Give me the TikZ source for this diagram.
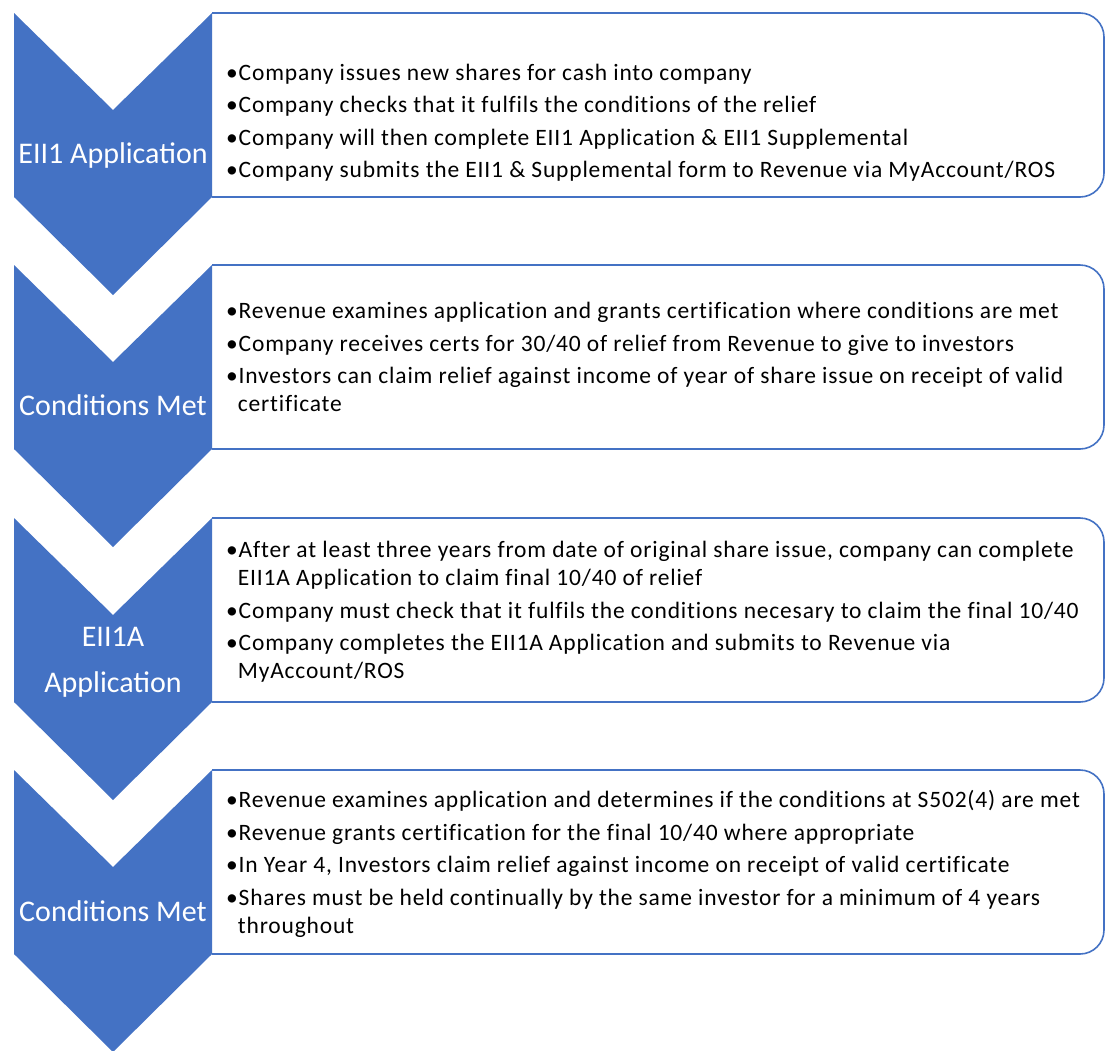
\documentclass[tikz,border=0pt]{standalone}
\usepackage{fontspec}
\setmainfont{Carlito}
\newfontfamily\bodyfont[LetterSpace=3.5, Ligatures=NoCommon]{Carlito}
\definecolor{chevblue}{HTML}{4472C4}
\tikzset{
  chevron/.style={fill=chevblue, draw=none},
  infobox/.style={draw=chevblue, line width=1.6pt, fill=white, rounded corners=24pt},
  steplabel/.style={text=white, font=\fontsize{30}{46}\selectfont, align=center, inner sep=0pt},
  bullets/.style={text=black, font=\bodyfont\fontsize{23.5}{28}\selectfont, align=left, anchor=north west, inner sep=0pt},
}
\begin{document}
\begin{tikzpicture}[x=1pt, y=-1pt]
	\def\xl{14}
	\def\xm{113}
	\def\xr{212}
	\def\xe{1104}
	\def\xt{226}
	\useasboundingbox (0,0) rectangle (1105,1050);
	\clip (0,0) rectangle (1105,1050);
	\foreach \t in {13,265,518,770}{
		\draw[infobox] (\xr,\t) -| (\xe,\t+184) -- (\xr,\t+184);
		\fill[chevron] (\xl,\t) -- (\xm,\t+97) -- (\xr,\t) -- (\xr,\t+184) -- (\xm,\t+282) -- (\xl,\t+184) -- cycle;
	}
	\node[steplabel, anchor=base] (lab1) at (\xm,163) {EII1 Application};
	\node[steplabel, anchor=base] (lab2) at (\xm,415) {Conditions Met};
	\node[steplabel] (lab3) at (\xm,662) {EII1A\\Application};
	\node[steplabel, anchor=base] (lab4) at (\xm,921) {Conditions Met};
	\node[bullets] (txt1) at (\xt,60.4) {\strut•Company issues new shares for cash into company\\[4.5pt]
		•Company checks that it fulfils the conditions of the relief\\[4.5pt]
		•Company will then complete EII1 Application \& EII1 Supplemental\\[4.5pt]
		•Company submits the EII1 \& Supplemental form to Revenue via MyAccount/ROS};
	\node[bullets] (txt2) at (\xt,298.4) {\strut•Revenue examines application and grants certification where conditions are met\\[5pt]
		•Company receives certs for 30/40 of relief from Revenue to give to investors\\[4pt]
		•Investors can claim relief against income of year of share issue on receipt of valid\\
		\phantom{•}certificate};
	\node[bullets] (txt3) at (\xt,537.4) {\strut•After at least three years from date of original share issue, company can complete\\
		\phantom{•}EII1A Application to claim final 10/40 of relief\\[5pt]
		•Company must check that it fulfils the conditions necesary to claim the final 10/40\\[4pt]
		•Company completes the EII1A Application and submits to Revenue via\\
		\phantom{•}MyAccount/ROS};
	\node[bullets] (txt4) at (\xt,787.4) {\strut•Revenue examines application and determines if the conditions at S502(4) are met\\[5pt]
		•Revenue grants certification for the final 10/40 where appropriate\\[4pt]
		•In Year 4, Investors claim relief against income on receipt of valid certificate\\[5pt]
		•Shares must be held continually by the same investor for a minimum of 4 years\\
		\phantom{•}throughout};
\end{tikzpicture}
\end{document}
